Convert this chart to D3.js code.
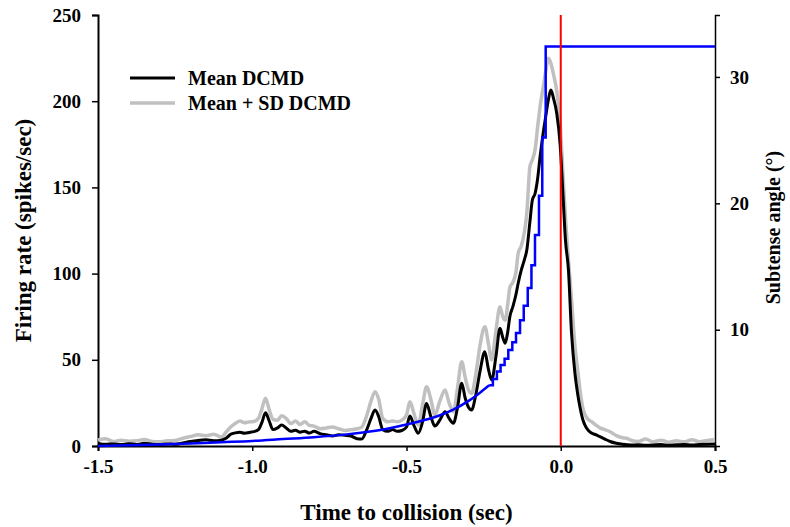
<!DOCTYPE html>
<html>
<head>
<meta charset="utf-8">
<script src="https://cdn.jsdelivr.net/npm/d3@7"></script>
<style>
  body { margin: 0; background: #fff; }
  text { font-family: "Liberation Serif", "Times New Roman", serif; font-weight: bold; }
</style>
</head>
<body>
<svg id="chart"></svg>
<script>
// time axis (sec), shared by both firing-rate series
const timeSec = [
  -1.500, -1.475, -1.450, -1.425, -1.400, -1.375, -1.350, -1.325, -1.300, -1.275,
  -1.250, -1.225, -1.200, -1.175, -1.150, -1.125, -1.100, -1.085, -1.070, -1.055,
  -1.040, -1.025, -1.010, -0.995, -0.980, -0.968, -0.957, -0.945, -0.933, -0.918,
  -0.905, -0.890, -0.875, -0.860, -0.845, -0.830, -0.815, -0.800, -0.780, -0.760,
  -0.740, -0.720, -0.700, -0.680, -0.660, -0.645, -0.630, -0.615, -0.602, -0.590,
  -0.577, -0.560, -0.545, -0.530, -0.515, -0.500, -0.489, -0.476, -0.462, -0.448,
  -0.435, -0.421, -0.408, -0.392, -0.375, -0.362, -0.348, -0.335, -0.321, -0.310,
  -0.300, -0.289, -0.275, -0.262, -0.246, -0.235, -0.224, -0.210, -0.197, -0.188,
  -0.180, -0.172, -0.165, -0.155, -0.145, -0.138, -0.128, -0.118, -0.110, -0.100,
  -0.092, -0.083, -0.075, -0.067, -0.057, -0.048, -0.040, -0.032, -0.024, -0.013,
  -0.002, 0.008, 0.015, 0.025, 0.035, 0.046, 0.055, 0.062, 0.073, 0.084,
  0.100, 0.115, 0.127, 0.143, 0.160, 0.180, 0.200, 0.214, 0.230, 0.250,
  0.275, 0.300, 0.325, 0.350, 0.375, 0.400, 0.425, 0.450, 0.475, 0.500
];

// Mean DCMD firing rate (spikes/sec)
const meanRate = [
  1.5, 1.0, 1.2, 0.8, 1.3, 0.9, 1.6, 1.0, 0.8, 1.2,
  1.0, 1.8, 2.6, 3.2, 3.6, 3.0, 3.4, 4.5, 6.8, 7.6,
  8.0, 7.4, 7.8, 8.3, 9.5, 14.0, 19.3, 14.5, 9.5, 10.5,
  12.2, 10.5, 8.5, 9.2, 8.0, 8.6, 7.5, 8.5, 7.2, 6.5,
  5.8, 6.5, 6.2, 5.8, 4.2, 4.0, 9.0, 16.0, 20.9, 17.0,
  9.5, 8.5, 9.5, 8.5, 9.0, 11.0, 17.4, 12.0, 7.4, 14.0,
  24.7, 17.0, 11.6, 15.0, 19.9, 16.0, 13.2, 22.0, 36.4, 28.0,
  22.8, 20.9, 30.0, 43.0, 54.7, 45.0, 38.3, 52.0, 68.3, 63.0,
  59.6, 66.0, 75.0, 81.0, 88.0, 94.4, 102.0, 108.0, 113.7, 130.0,
  142.7, 146.6, 155.0, 167.8, 181.4, 192.0, 201.0, 206.5, 202.0, 193.0,
  175.0, 143.0, 120.0, 102.0, 65.4, 42.2, 30.0, 22.8, 14.5, 10.3,
  7.5, 6.5, 5.4, 4.0, 2.6, 1.6, 1.0, 0.8, 0.6, 0.7,
  0.5, 0.6, 0.8, 0.5, 0.7, 0.9, 0.6, 0.8, 1.0, 1.2
];

// Mean + SD DCMD firing rate (spikes/sec)
const sdRate = [
  3.5, 4.2, 2.6, 3.4, 2.8, 3.0, 3.8, 2.6, 2.4, 3.0,
  3.2, 4.5, 5.5, 6.5, 6.0, 6.8, 5.2, 8.0, 11.0, 13.0,
  14.5, 13.5, 14.0, 14.2, 16.0, 22.0, 27.7, 21.0, 15.5, 15.0,
  17.5, 16.0, 13.0, 14.5, 12.5, 14.0, 12.0, 11.5, 10.0, 10.5,
  11.0, 10.0, 9.0, 9.5, 10.0, 11.0, 17.0, 26.0, 31.5, 27.0,
  16.0, 14.0, 14.5, 14.0, 15.0, 18.0, 25.7, 19.0, 12.2, 24.0,
  34.4, 27.0, 18.0, 26.0, 32.5, 25.0, 19.9, 33.0, 48.9, 40.0,
  33.0, 30.5, 42.0, 58.0, 69.2, 60.0, 50.0, 67.0, 80.8, 75.0,
  73.0, 82.0, 92.0, 95.0, 101.0, 111.8, 116.0, 124.0, 135.0, 162.0,
  166.0, 172.0, 185.0, 196.8, 208.0, 218.0, 224.9, 222.0, 216.0, 206.0,
  187.2, 155.0, 133.0, 108.0, 84.7, 58.0, 44.0, 33.0, 21.0, 16.5,
  14.1, 12.0, 10.5, 9.5, 8.3, 6.0, 4.8, 4.5, 3.2, 2.6,
  4.0, 2.4, 3.4, 2.2, 3.0, 2.4, 3.6, 2.5, 3.2, 3.6
];

// subtense angle (deg): smooth early part and the stepped part near collision
const angleSmoothTime = [-1.5, -1.4, -1.3, -1.2, -1.1, -1.0, -0.9, -0.8, -0.7, -0.6, -0.5, -0.45, -0.4, -0.35, -0.3, -0.27, -0.25, -0.232];
const angleSmoothDeg  = [0.8, 0.85, 0.92, 1.0, 1.1, 1.2, 1.35, 1.5, 1.7, 2.0, 2.5, 2.8, 3.15, 3.65, 4.35, 4.85, 5.25, 5.6];
const angleStepTime = [-0.232, -0.220, -0.207, -0.195, -0.182, -0.170, -0.157, -0.145, -0.132, -0.120, -0.107, -0.095, -0.0835, -0.0706, -0.0599, -0.0488, 0.5];
const angleStepDeg  = [5.6, 6.1, 6.7, 7.2, 7.7, 8.4, 9.0, 9.75, 10.75, 11.9, 13.3, 15.1, 17.5, 20.6, 25.2, 32.4, 32.4];

const rateTicks = [0, 50, 100, 150, 200, 250];
const timeTicks = [-1.5, -1.0, -0.5, 0.0, 0.5];
const angleTicks = [10, 20, 30];
const legendLabels = ['Mean DCMD', 'Mean + SD DCMD'];
const legendColors = ['#000000', '#c0c0c0'];

const config = {
  containerWidth: 790,
  containerHeight: 527,
  margin: { top: 15, right: 75, bottom: 81, left: 98 }
};
const width = config.containerWidth - config.margin.left - config.margin.right;
const height = config.containerHeight - config.margin.top - config.margin.bottom;

const svg = d3.select('#chart')
    .attr('width', config.containerWidth)
    .attr('height', config.containerHeight);

const chart = svg.append('g')
    .attr('transform', `translate(${config.margin.left},${config.margin.top})`);

const x = d3.scaleLinear().domain([-1.5, 0.5]).range([0, width]);
const y = d3.scaleLinear().domain([0, 250]).range([height, 0]);
const yAngle = d3.scaleLinear().domain([0.8, 34.9]).range([height, 0]);

// axes (plain hyphen for negatives, like the original)
const xAxis = chart.append('g')
    .attr('transform', `translate(0,${height})`)
    .call(d3.axisBottom(x).tickValues(timeTicks).tickFormat(d => d.toFixed(1)).tickSizeOuter(0).tickSize(5).tickPadding(9));

const yAxis = chart.append('g')
    .call(d3.axisLeft(y).tickValues(rateTicks).tickSizeOuter(0).tickSize(6).tickPadding(11));

const yAxisRight = chart.append('g')
    .attr('transform', `translate(${width},0)`)
    .call(d3.axisRight(yAngle).tickValues(angleTicks).tickSizeOuter(0).tickSize(5).tickPadding(10));

[xAxis, yAxis, yAxisRight].forEach(a => {
  a.selectAll('text').attr('font-size', '19px').attr('fill', '#000');
  a.selectAll('line').attr('stroke', '#000').attr('stroke-width', 1.5);
  a.select('.domain').attr('stroke', '#000').attr('stroke-width', 2);
});
yAxisRight.select('.domain').attr('stroke-width', 1.5);

// lines
const points = vals => timeSec.map((t, i) => [t, vals[i]]);
const rateLine = d3.line()
    .x(d => x(d[0]))
    .y(d => y(d[1]))
    .curve(d3.curveMonotoneX);

chart.append('path')
    .datum(points(sdRate))
    .attr('fill', 'none')
    .attr('stroke', '#c0c0c0')
    .attr('stroke-width', 3.5)
    .attr('stroke-linejoin', 'round')
    .attr('d', rateLine);

chart.append('path')
    .datum(points(meanRate))
    .attr('fill', 'none')
    .attr('stroke', '#000')
    .attr('stroke-width', 3)
    .attr('stroke-linejoin', 'round')
    .attr('d', rateLine);

const angleSmooth = d3.line()
    .x(d => x(d[0]))
    .y(d => yAngle(d[1]))
    .curve(d3.curveMonotoneX);
const angleStep = d3.line()
    .x(d => x(d[0]))
    .y(d => yAngle(d[1]))
    .curve(d3.curveStepAfter);

chart.append('path')
    .datum(angleSmoothTime.map((t, i) => [t, angleSmoothDeg[i]]))
    .attr('fill', 'none')
    .attr('stroke', '#0000ff')
    .attr('stroke-width', 2.5)
    .attr('d', angleSmooth);

chart.append('path')
    .datum(angleStepTime.map((t, i) => [t, angleStepDeg[i]]))
    .attr('fill', 'none')
    .attr('stroke', '#0000ff')
    .attr('stroke-width', 2.5)
    .attr('d', angleStep);

// collision marker
chart.append('line')
    .attr('x1', x(0)).attr('x2', x(0))
    .attr('y1', 0).attr('y2', height)
    .attr('stroke', '#ff0000')
    .attr('stroke-width', 2);

// axis titles
svg.append('text')
    .attr('x', config.margin.left + width / 2)
    .attr('y', 520)
    .attr('text-anchor', 'middle')
    .attr('font-size', '23px')
    .text('Time to collision (sec)');

svg.append('text')
    .attr('transform', `translate(31,${config.margin.top + height / 2}) rotate(-90)`)
    .attr('text-anchor', 'middle')
    .attr('font-size', '23px')
    .text('Firing rate (spikes/sec)');

svg.append('text')
    .attr('transform', `translate(780,${config.margin.top + height / 2 - 3}) rotate(-90)`)
    .attr('text-anchor', 'middle')
    .attr('font-size', '20px')
    .text('Subtense angle (°)');

// legend
const legend = chart.append('g')
    .attr('transform', 'translate(32,63)');
legendLabels.forEach((label, i) => {
  const row = legend.append('g').attr('transform', `translate(0,${i * 25})`);
  row.append('line')
      .attr('x1', 0).attr('x2', 45)
      .attr('stroke', legendColors[i])
      .attr('stroke-width', i === 0 ? 3 : 3.5);
  row.append('text')
      .attr('x', 58)
      .attr('y', 7)
      .attr('font-size', '20px')
      .text(label);
});
</script>
</body>
</html>
